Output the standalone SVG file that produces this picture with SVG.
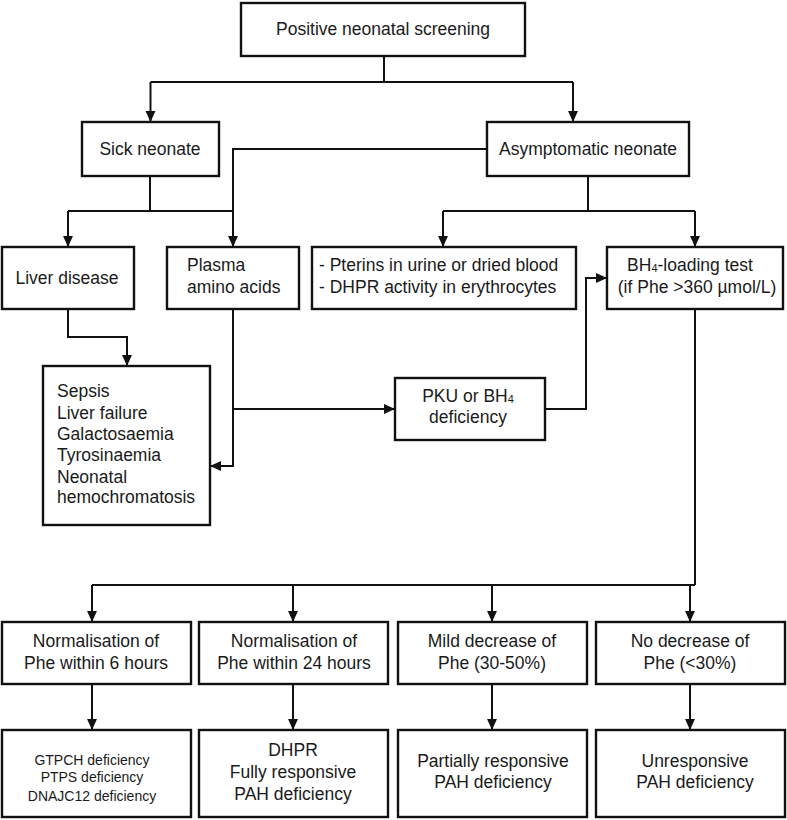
<svg xmlns="http://www.w3.org/2000/svg" width="787" height="820" viewBox="0 0 787 820">
<defs>
<marker id="ah" viewBox="0 0 10 10" refX="10" refY="5" markerWidth="11" markerHeight="11" markerUnits="userSpaceOnUse" orient="auto">
<path d="M0,0.5 L10,5 L0,9.5 z" fill="#111"/>
</marker>
<style>
rect{fill:#fff;stroke:#111;stroke-width:2.4}
text{font-family:"Liberation Sans",Arial,sans-serif;font-size:17.5px;fill:#1a1a1a}
.c{text-anchor:middle}
.s{font-size:14px}
#connectors path{fill:none;stroke:#111;stroke-width:2}
.arr{marker-end:url(#ah)}
</style>
</defs>
<rect x="0" y="0" width="787" height="820" style="fill:#fff;stroke:none"/>
<g id="connectors">
<path d="M384,56 V82 M150.5,82 H573"/>
<path class="arr" d="M150.5,82 V122"/>
<path class="arr" d="M573,82 V122"/>
<path d="M150,176 V211 M68,211 H233 M487,149 H233 V211"/>
<path class="arr" d="M68,211 V247"/>
<path class="arr" d="M233,211 V247"/>
<path d="M588,176 V211 M443,211 H695"/>
<path class="arr" d="M443,211 V247"/>
<path class="arr" d="M695,211 V247"/>
<path class="arr" d="M68,309 V337 H127 V366"/>
<path class="arr" d="M233,309 V466 H210"/>
<path class="arr" d="M233,409 H395"/>
<path class="arr" d="M545,409 H586 V278 H607"/>
<path d="M695,309 V585 M92,585 H695"/>
<path class="arr" d="M92,585 V622"/>
<path class="arr" d="M293,585 V622"/>
<path class="arr" d="M492,585 V622"/>
<path class="arr" d="M690,585 V622"/>
<path class="arr" d="M92,684 V730"/>
<path class="arr" d="M293,684 V730"/>
<path class="arr" d="M492,684 V730"/>
<path class="arr" d="M690,684 V730"/>
</g>
<g id="n-screening"><rect x="241" y="3" width="284" height="53"/><text class="c" x="383" y="35">Positive neonatal screening</text></g>
<g id="n-sick"><rect x="82" y="122" width="137" height="54"/><text class="c" x="150" y="155">Sick neonate</text></g>
<g id="n-asym"><rect x="487" y="122" width="202" height="54"/><text class="c" x="588" y="155">Asymptomatic neonate</text></g>
<g id="n-liver"><rect x="2" y="247" width="132" height="62"/><text class="c" x="67" y="284">Liver disease</text></g>
<g id="n-plasma"><rect x="167" y="247" width="132" height="62"/><text x="187" y="271">Plasma</text><text x="187" y="293">amino acids</text></g>
<g id="n-pterins"><rect x="312" y="247" width="264" height="62"/><text x="319" y="271">- Pterins in urine or dried blood</text><text x="319" y="293">- DHPR activity in erythrocytes</text></g>
<g id="n-bh4"><rect x="607" y="247" width="176" height="62"/><text class="c" x="690" y="271">BH<tspan font-size="11" dy="1">4</tspan><tspan dy="-1">-loading test</tspan></text><text class="c" x="697" y="293">(if Phe &gt;360 µmol/L)</text></g>
<g id="n-sepsis"><rect x="43" y="366" width="167" height="159"/>
<text x="57" y="397">Sepsis</text><text x="57" y="419">Liver failure</text><text x="57" y="440">Galactosaemia</text><text x="57" y="461">Tyrosinaemia</text><text x="57" y="483">Neonatal</text><text x="57" y="503">hemochromatosis</text></g>
<g id="n-pku"><rect x="395" y="378" width="150" height="62"/><text class="c" x="468" y="402">PKU or BH<tspan font-size="11" dy="1">4</tspan></text><text class="c" x="468" y="423">deficiency</text></g>
<g id="n-r1a"><rect x="2" y="622" width="189" height="62"/><text class="c" x="96" y="647">Normalisation of</text><text class="c" x="96" y="669">Phe within 6 hours</text></g>
<g id="n-r1b"><rect x="199" y="622" width="189" height="62"/><text class="c" x="294" y="647">Normalisation of</text><text class="c" x="294" y="669">Phe within 24 hours</text></g>
<g id="n-r1c"><rect x="398" y="622" width="189" height="62"/><text class="c" x="492" y="647">Mild decrease of</text><text class="c" x="492" y="669">Phe (30-50%)</text></g>
<g id="n-r1d"><rect x="596" y="622" width="189" height="62"/><text class="c" x="690" y="647">No decrease of</text><text class="c" x="690" y="669">Phe (&lt;30%)</text></g>
<g id="n-r2a"><rect x="2" y="730" width="189" height="87"/><text class="c s" x="92" y="765">GTPCH deficiency</text><text class="c s" x="92" y="782">PTPS deficiency</text><text class="c s" x="92" y="801">DNAJC12 deficiency</text></g>
<g id="n-r2b"><rect x="199" y="730" width="189" height="87"/><text class="c" x="293" y="756">DHPR</text><text class="c" x="293" y="778">Fully responsive</text><text class="c" x="293" y="800">PAH deficiency</text></g>
<g id="n-r2c"><rect x="398" y="730" width="189" height="87"/><text class="c" x="493" y="767">Partially responsive</text><text class="c" x="493" y="788">PAH deficiency</text></g>
<g id="n-r2d"><rect x="596" y="730" width="189" height="87"/><text class="c" x="695" y="767">Unresponsive</text><text class="c" x="695" y="788">PAH deficiency</text></g>
</svg>
